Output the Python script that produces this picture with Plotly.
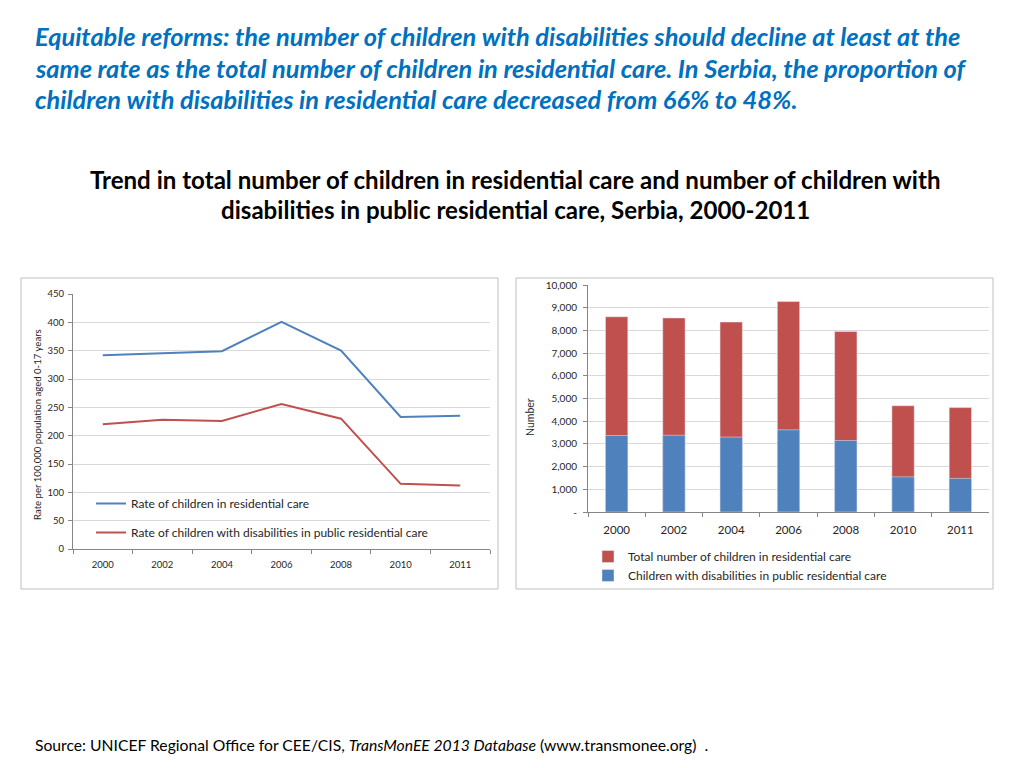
import plotly.graph_objects as go

years = ["2000", "2002", "2004", "2006", "2008", "2010", "2011"]
rate_total = [342, 345, 349, 401, 350, 233, 235]
rate_disab = [220, 228, 226, 256, 230, 115, 112]
num_total = [8600, 8550, 8370, 9270, 7950, 4680, 4600]
num_disab = [3370, 3380, 3300, 3620, 3150, 1550, 1480]
left_yticks = [0, 50, 100, 150, 200, 250, 300, 350, 400, 450]
right_yticks = [0, 1000, 2000, 3000, 4000, 5000, 6000, 7000, 8000, 9000, 10000]
right_yticklabels = ["-", "1,000", "2,000", "3,000", "4,000", "5,000", "6,000",
                     "7,000", "8,000", "9,000", "10,000"]

title_lines = [
    "Equitable reforms: the number of children with disabilities should decline at least at the",
    "same rate as the total number of children in residential care. In Serbia, the proportion of",
    "children with disabilities in residential care decreased from 66% to 48%.",
]
subtitle_lines = [
    "Trend in total number of children in residential care and number of children with",
    "disabilities in public residential care, Serbia, 2000-2011",
]
source_text = ("Source: UNICEF Regional Office for CEE/CIS, <i>TransMonEE 2013 Database</i> "
               "(www.transmonee.org)  .")

# page body has an 8px margin; figure is sized to fit the window
OFF = 8
W, H = 1024 - OFF, 768 - OFF
FONT = "Lato"
BLUE = "#4F81BD"
RED = "#C0504D"
AX = "#868686"
TXT = "#262626"


def px_x(x):
    return (x - OFF) / W


def px_y(y):
    return 1 - (y - OFF) / H


fig = go.Figure()

fig.add_trace(go.Scatter(x=years, y=rate_total, mode="lines", name="Rate of children in residential care",
                         line=dict(color=BLUE, width=2), xaxis="x", yaxis="y",
                         legend="legend", legendgroup="a"))
fig.add_trace(go.Scatter(x=years, y=rate_disab, mode="lines",
                         name="Rate of children with disabilities in public residential care",
                         line=dict(color=RED, width=2), xaxis="x", yaxis="y",
                         legend="legend", legendgroup="b"))

fig.add_trace(go.Bar(x=years, y=num_total, name="Total number of children in residential care",
                     marker=dict(color=RED), width=0.39, xaxis="x2", yaxis="y2",
                     legend="legend2"))
fig.add_trace(go.Bar(x=years, y=num_disab, name="Children with disabilities in public residential care",
                     marker=dict(color=BLUE), width=0.39, xaxis="x2", yaxis="y2",
                     legend="legend2"))


def xax(domain, anchor, size, standoff):
    return dict(domain=domain, anchor=anchor, type="category", range=[-0.5, 6.5],
                ticks="outside", tickson="boundaries", ticklen=4, tickcolor=AX,
                ticklabelstandoff=standoff,
                showgrid=False, showline=True, linecolor=AX, linewidth=1, automargin=False,
                tickfont=dict(family=FONT, size=size, color=TXT))


def yax(domain, anchor, rng, tickvals, size, standoff, ticktext=None):
    d = dict(domain=domain, anchor=anchor, range=rng, tickvals=tickvals,
             ticks="outside", ticklen=4, tickcolor=AX, ticklabelstandoff=standoff,
             showgrid=True, gridcolor="#D9D9D9", zeroline=False,
             showline=True, linecolor=AX, linewidth=1, automargin=False,
             tickfont=dict(family=FONT, size=size, color=TXT))
    if ticktext is not None:
        d["ticktext"] = ticktext
    return d


fig.update_layout(
    width=W, height=H, margin=dict(l=0, r=0, t=0, b=0, autoexpand=False),
    paper_bgcolor="white", plot_bgcolor="white",
    barmode="overlay",
    font=dict(family=FONT, color=TXT),
    xaxis=xax([px_x(73), px_x(490)], "y", 9.5, 7),
    yaxis=yax([px_y(549), px_y(294)], "x", [0, 450], left_yticks, 9.5, 2),
    xaxis2=xax([px_x(588), px_x(989)], "y2", 11.5, 7),
    yaxis2=yax([px_y(512), px_y(285)], "x2", [0, 10000], right_yticks, 10, 4, right_yticklabels),
    legend=dict(x=px_x(91), y=px_y(489), xanchor="left", yanchor="top",
                bgcolor="rgba(0,0,0,0)", font=dict(family=FONT, size=12, color=TXT),
                traceorder="grouped", tracegroupgap=10, itemwidth=30),
    legend2=dict(x=px_x(588), y=px_y(542), xanchor="left", yanchor="top",
                 bgcolor="rgba(0,0,0,0)", font=dict(family=FONT, size=12, color=TXT),
                 traceorder="normal", tracegroupgap=0, itemwidth=30),
)

shapes = [
    dict(type="rect", xref="paper", yref="paper", x0=px_x(21), x1=px_x(498), y0=px_y(589), y1=px_y(278),
         line=dict(color="#BFBFBF", width=1)),
    dict(type="rect", xref="paper", yref="paper", x0=px_x(516), x1=px_x(993), y0=px_y(589), y1=px_y(278),
         line=dict(color="#BFBFBF", width=1)),
]
fig.update_layout(shapes=shapes)

annotations = []
for i, line in enumerate(title_lines):
    annotations.append(dict(text="<b><i>" + line + "</i></b>", xref="paper", yref="paper",
                            x=px_x(33), y=px_y(36.5 + 31 * i), xanchor="left", yanchor="middle",
                            showarrow=False, font=dict(family=FONT, size=25.4, color="#0070C0")))
for i, line in enumerate(subtitle_lines):
    annotations.append(dict(text="<b>" + line + "</b>", xref="paper", yref="paper",
                            x=px_x(515), y=px_y(179.5 + 30 * i), xanchor="center", yanchor="middle",
                            showarrow=False, font=dict(family=FONT, size=24.1, color="black")))
annotations.append(dict(text=source_text, xref="paper", yref="paper", x=px_x(33), y=px_y(745),
                        xanchor="left", yanchor="middle", showarrow=False,
                        font=dict(family=FONT, size=15.7, color="black")))
annotations.append(dict(text="Rate per 100,000 population aged 0-17 years", xref="paper", yref="paper",
                        x=px_x(37), y=px_y(425), textangle=-90, xanchor="center", yanchor="middle",
                        showarrow=False, font=dict(family=FONT, size=9.6, color=TXT)))
annotations.append(dict(text="Number", xref="paper", yref="paper",
                        x=px_x(530), y=px_y(417), textangle=-90, xanchor="center", yanchor="middle",
                        showarrow=False, font=dict(family=FONT, size=10.5, color=TXT)))
fig.update_layout(annotations=annotations)

fig.write_html("out.html")
